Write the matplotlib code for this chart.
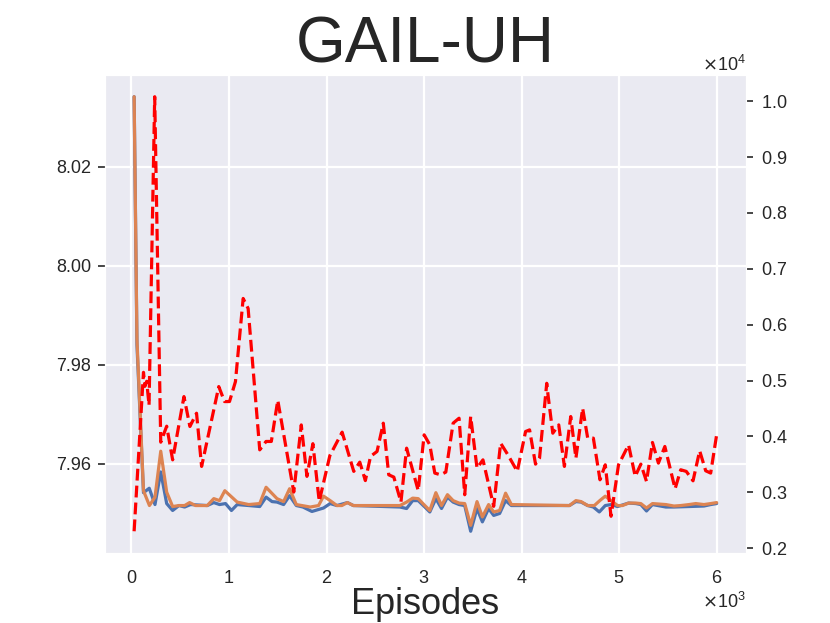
import matplotlib
matplotlib.use("Agg")
import matplotlib.pyplot as plt
import seaborn as sns

sns.set_style("darkgrid")
plt.rcParams["font.family"] = ["Liberation Sans", "DejaVu Sans"]
plt.rcParams["xtick.labelsize"] = 13
plt.rcParams["ytick.labelsize"] = 13

# left axis series (blue / orange), x in episodes
blue_x = [27, 56, 123, 182, 241, 300, 361, 422, 487, 545, 606, 777, 844, 903, 964, 1025,
          1084, 1202, 1315, 1380, 1441, 1492, 1560, 1621, 1690, 1758, 1850, 1918, 1969,
          2037, 2106, 2214, 2275, 2753, 2821, 2883, 2940, 3008, 3059, 3121, 3179, 3240,
          3298, 3359, 3417, 3478, 3543, 3598, 3662, 3714, 3775, 3836, 3895, 4491, 4557,
          4610, 4678, 4736, 4797, 4858, 4917, 4984, 5097, 5172, 5223, 5281, 5342, 5479,
          5563, 5717, 5870, 5939, 6000]
blue_y = [8.0342, 7.9841, 7.9541, 7.9550, 7.9517, 7.9583, 7.9519, 7.9505, 7.9515, 7.9512,
          7.9517, 7.9515, 7.9521, 7.9517, 7.9519, 7.9505, 7.9517, 7.9515, 7.9513, 7.9532,
          7.9523, 7.9522, 7.9517, 7.9535, 7.9515, 7.9512, 7.9503, 7.9507, 7.9510, 7.9519,
          7.9515, 7.9521, 7.9515, 7.9512, 7.9509, 7.9525, 7.9525, 7.9512, 7.9502, 7.9529,
          7.9509, 7.9532, 7.9522, 7.9517, 7.9515, 7.9463, 7.9509, 7.9482, 7.9509, 7.9495,
          7.9499, 7.9525, 7.9515, 7.9515, 7.9523, 7.9522, 7.9515, 7.9512, 7.9502, 7.9515,
          7.9517, 7.9513, 7.9520, 7.9519, 7.9517, 7.9504, 7.9517, 7.9512, 7.9512, 7.9513,
          7.9514, 7.9517, 7.9519]

orange_x = [27, 56, 123, 184, 241, 300, 361, 422, 487, 545, 596, 657, 777, 844, 903, 957,
            1084, 1202, 1315, 1380, 1492, 1560, 1621, 1690, 1833, 1918, 1969, 2037, 2106,
            2157, 2214, 2275, 2753, 2821, 2883, 2940, 3008, 3059, 3121, 3179, 3240, 3298,
            3359, 3417, 3478, 3543, 3598, 3662, 3714, 3775, 3836, 3895, 4491, 4557, 4610,
            4678, 4746, 4802, 4858, 4917, 4984, 5035, 5097, 5172, 5223, 5281, 5342, 5479,
            5563, 5632, 5717, 5786, 5870, 5939, 6000]
orange_y = [8.0342, 7.9851, 7.9545, 7.9515, 7.9532, 7.9625, 7.9542, 7.9513, 7.9515, 7.9515,
            7.9521, 7.9515, 7.9515, 7.9529, 7.9525, 7.9545, 7.9522, 7.9517, 7.9519, 7.9552,
            7.9529, 7.9523, 7.9549, 7.9517, 7.9512, 7.9515, 7.9534, 7.9525, 7.9515, 7.9515,
            7.9521, 7.9515, 7.9515, 7.9522, 7.9530, 7.9529, 7.9515, 7.9505, 7.9541, 7.9515,
            7.9537, 7.9525, 7.9520, 7.9519, 7.9475, 7.9523, 7.9492, 7.9517, 7.9502, 7.9505,
            7.9540, 7.9517, 7.9515, 7.9525, 7.9523, 7.9515, 7.9515, 7.9525, 7.9534, 7.9525,
            7.9515, 7.9515, 7.9520, 7.9520, 7.9519, 7.9510, 7.9519, 7.9517, 7.9514, 7.9515,
            7.9517, 7.9519, 7.9517, 7.9519, 7.9521]

# right axis series (red dashed)
red_x = [27, 123, 138, 156, 180, 238, 300, 361, 422, 538, 599, 667, 719, 895, 954, 1005,
         1066, 1145, 1196, 1315, 1380, 1434, 1500, 1664, 1741, 1799, 1860, 1925, 2034,
         2160, 2279, 2341, 2398, 2451, 2518, 2582, 2638, 2690, 2763, 2821, 2940, 3001,
         3059, 3110, 3169, 3223, 3298, 3359, 3417, 3478, 3543, 3604, 3714, 3785, 3860,
         3956, 4041, 4082, 4143, 4184, 4258, 4271, 4320, 4381, 4439, 4504, 4557, 4626,
         4678, 4736, 4804, 4858, 4917, 4994, 5097, 5165, 5223, 5281, 5342, 5403, 5469,
         5574, 5632, 5689, 5758, 5826, 5888, 5939, 6000]
red_y = [2304, 5148, 4898, 4988, 4559, 10080, 3898, 4184, 3582, 4714, 4179, 4416, 3464,
         4893, 4625, 4625, 4982, 6470, 6291, 3761, 3911, 3911, 4648, 3005, 4207, 3286,
         3871, 2839, 3657, 4077, 3375, 3541, 3211, 3643, 3732, 4238, 3314, 3273, 2827,
         3791, 3032, 4029, 3850, 3345, 3314, 3363, 4238, 4327, 2957, 4357, 3434, 3582,
         2750, 3880, 3671, 3375, 4089, 4118, 3505, 3612, 4952, 4743, 4059, 4207, 3464,
         4357, 3612, 4505, 3970, 3970, 3225, 3493, 2572, 3493, 3850, 3286, 3505, 3196,
         3893, 3523, 3821, 3064, 3404, 3375, 3207, 3743, 3386, 3345, 4029]

fig = plt.figure(figsize=(8.3, 6.23), dpi=100)
ax = fig.add_axes([0.1265, 0.1124, 0.772, 0.7672])
ax.plot(blue_x, blue_y, color="#4C72B0", lw=2.3)
ax.plot(orange_x, orange_y, color="#DD8452", lw=2.3)
ax.grid(True, color="white", lw=1.6)

ax2 = ax.twinx()
ax2.plot(red_x, red_y, "r--", lw=2.3)
ax2.grid(False)

ax.set_yticks([7.96, 7.98, 8.00, 8.02])
ax.ticklabel_format(axis="y", useOffset=False)
ax.ticklabel_format(axis="x", style="sci", scilimits=(0, 0), useMathText=True)
ax2.set_yticks([2000, 3000, 4000, 5000, 6000, 7000, 8000, 9000, 10000])
ax2.ticklabel_format(axis="y", style="sci", scilimits=(0, 0), useMathText=True)

ax.tick_params(axis="x", bottom=False, pad=9)
ax.tick_params(axis="y", left=True, length=5, width=1.2, color="#262626", pad=5)
ax2.tick_params(axis="y", right=True, length=5, width=1.2, color="#262626", pad=6)

ax.set_title("GAIL-UH", fontsize=46, pad=8)
ax.set_xlabel("Episodes", fontsize=26, labelpad=0)

fig.savefig("out.png", dpi=100)
